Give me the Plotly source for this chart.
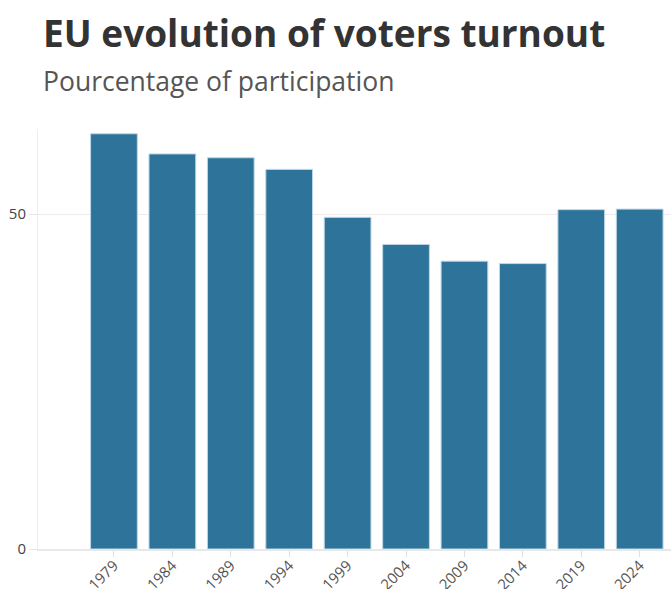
import plotly.graph_objects as go

years = [1979, 1984, 1989, 1994, 1999, 2004, 2009, 2014, 2019, 2024]
turnout = [61.99, 58.98, 58.41, 56.67, 49.51, 45.47, 42.97, 42.61, 50.66, 50.74]
title_text = "EU evolution of voters turnout"
subtitle_text = "Pourcentage of participation"

W, H = 671, 589
L, R, T, B = 38, 0, 129, 40
pw, ph = W - L - R, H - T - B

fig = go.Figure(go.Bar(
    x=years, y=turnout, width=4,
    marker=dict(color="rgb(46,116,154)", line=dict(color="rgba(190,215,232,1)", width=1)),
))

fig.update_layout(
    width=W, height=H,
    margin=dict(l=L, r=R, t=T, b=B, autoexpand=False),
    paper_bgcolor="white", plot_bgcolor="white",
    font=dict(family="Open Sans", color="#444"),
    showlegend=False,
    xaxis=dict(
        range=[1972.5, 2026.68], tickmode="array", tickvals=years,
        ticktext=[str(y) for y in years], tickangle=-45,
        tickfont=dict(size=15, color="#555"), showgrid=False,
        ticks="outside", ticklen=6, tickcolor="#e0e0e0", ticklabelstandoff=-6,
        showline=True, linecolor="#e8e8e8", linewidth=2, zeroline=False,
    ),
    yaxis=dict(
        range=[0, 62.7], tickvals=[0, 50], tickfont=dict(size=15, color="#444"),
        showgrid=True, gridcolor="#ececec", gridwidth=1,
        ticks="outside", ticklen=8, tickcolor="#e6e6e6",
        showline=True, linecolor="#eeeeee", linewidth=1, zeroline=False,
    ),
    annotations=[
        dict(text="<b>" + title_text + "</b>", xref="paper", yref="paper",
             x=(41 - L) / pw, y=(H - B - 33) / ph, xanchor="left", yanchor="middle",
             showarrow=False, font=dict(family="Open Sans", size=37, color="#333")),
        dict(text=subtitle_text, xref="paper", yref="paper",
             x=(41 - L) / pw, y=(H - B - 81) / ph, xanchor="left", yanchor="middle",
             showarrow=False, font=dict(family="Open Sans", size=26.5, color="#555")),
    ],
)

fig.write_html("out.html")
